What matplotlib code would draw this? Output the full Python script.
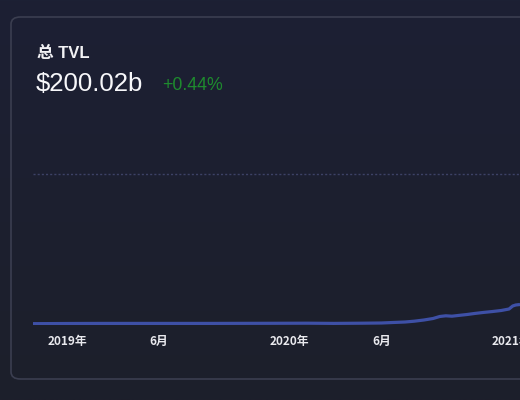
import matplotlib
matplotlib.use("Agg")
import matplotlib.pyplot as plt
from matplotlib.patches import FancyBboxPatch
from matplotlib.colors import LinearSegmentedColormap
import numpy as np
import pandas as pd

plt.rcParams['font.family'] = ['Noto Sans CJK SC', 'DejaVu Sans']

# ---- data ----
dates = ["2018-10-20", "2018-12-01", "2019-01-01", "2019-03-01", "2019-06-01",
         "2019-09-01", "2019-12-01", "2020-02-01", "2020-03-15", "2020-05-01",
         "2020-06-01", "2020-06-20", "2020-07-10", "2020-07-25", "2020-08-10",
         "2020-08-25", "2020-09-05", "2020-09-15", "2020-09-25", "2020-10-05",
         "2020-10-20", "2020-11-01", "2020-11-15", "2020-12-01", "2020-12-15",
         "2020-12-28", "2021-01-03", "2021-01-08", "2021-01-15"]
tvl = [0.3, 0.4, 0.5, 0.6, 0.6, 0.6, 0.7, 0.8, 0.6, 0.8,
       1.0, 1.5, 2.0, 2.8, 4.0, 5.5, 7.5, 8.2, 7.8, 8.5,
       9.5, 10.5, 11.5, 12.5, 13.5, 15.0, 18.0, 19.0, 19.5]
tick_dates = ["2019-01-01", "2019-06-01", "2020-01-01", "2020-06-01", "2021-01-01"]
tick_labels = ["2019年", "6月", "2020年", "6月", "2021年"]
grid_value = 150
title = "总 TVL"
total = "$200.02b"
change = "+0.44%"

W, H = 520, 400
fig = plt.figure(figsize=(W/100, H/100), dpi=100)

# background gradient
bg = fig.add_axes([0, 0, 1, 1], zorder=-10)
grad = np.linspace(0, 1, 256).reshape(-1, 1)
cmap = LinearSegmentedColormap.from_list("bg", ["#1c2034", "#1d1f2b"])
bg.imshow(grad, aspect='auto', cmap=cmap, extent=[0, 1, 0, 1], origin='upper')
bg.set_xlim(0, 1); bg.set_ylim(0, 1)
bg.axis('off')

# card
card = FancyBboxPatch((11/W, (H-379)/H), 1.2, (379-17)/H,
                      boxstyle="round,pad=0,rounding_size=0.018",
                      transform=fig.transFigure, facecolor="none",
                      edgecolor="#3b3e50", linewidth=1.2, zorder=-5)
fig.patches.append(card)

ax = fig.add_axes([33/W, (H-325)/H, 1 - 33/W, 161/H])
ax.set_facecolor("none")
x = pd.to_datetime(dates)
ax.plot(x, tvl, color="#3e50a6", linewidth=2.3, solid_capstyle='butt', zorder=3)
ax.axhline(grid_value, color="#3d4266", linewidth=1.0, linestyle=(0, (1.5, 1.5)), zorder=1)
ax.set_xlim(pd.Timestamp("2018-11-06"), pd.Timestamp("2021-01-15"))
ax.set_ylim(-1, 160)
ax.set_xticks(pd.to_datetime(tick_dates))
ax.set_xticklabels(tick_labels, fontsize=8.5, fontweight='bold', color="#e9e9ee")
ax.tick_params(axis='x', length=0, pad=7.5)
ax.set_yticks([])
for s in ax.spines.values():
    s.set_visible(False)

sans = ['Liberation Sans', 'Noto Sans CJK SC']
fig.text(37/W, 1 - 53/H, title, fontsize=12, color="#f2f2f5", va='center', ha='left',
         family=sans, fontweight='bold')
fig.text(36/W, 1 - 84/H, total, fontsize=18.5, color="#f7f7fa", va='center', ha='left',
         family=sans)
fig.text(162/W, 1 - 85/H, change, fontsize=12.8, color="#1e8a2e", va='center', ha='left',
         family=sans)

fig.savefig("out.png", dpi=100, facecolor="#1c2033")
